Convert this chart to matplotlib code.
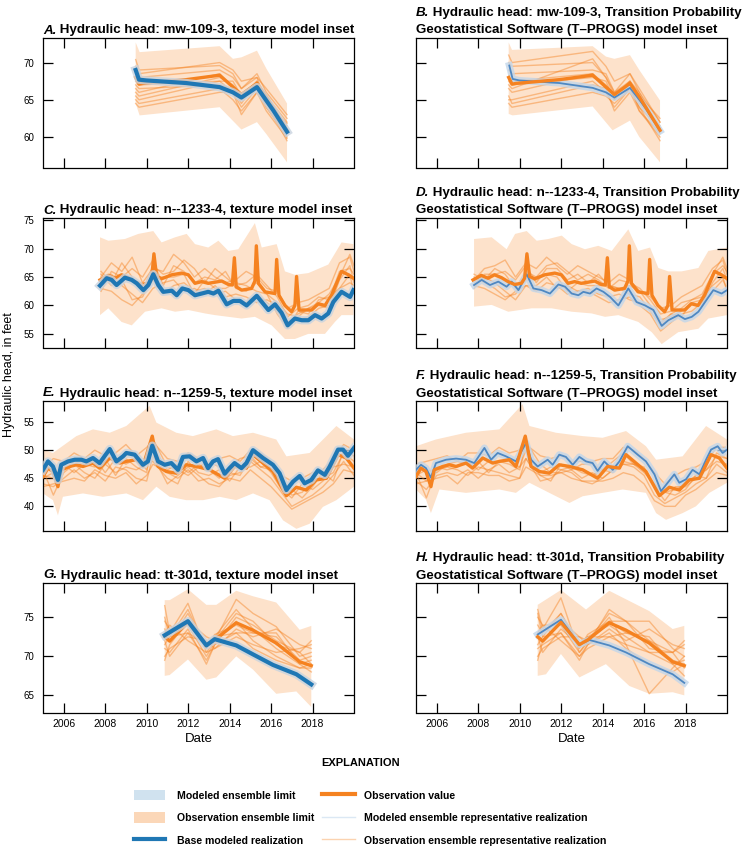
import matplotlib
matplotlib.use("Agg")
import matplotlib.pyplot as plt
import matplotlib.transforms as mtransforms
from matplotlib.patches import Patch
from matplotlib.lines import Line2D
import numpy as np

plt.rcParams['font.family'] = ['Liberation Sans', 'DejaVu Sans']

# ---------------- colours ----------------
BLUE = '#1f77b4'
BLUE_THIN = '#4f88c2'
BAND_BLUE = '#c2d6ea'
ORANGE = '#f58220'
PEACH = '#fde2cb'

# ---------------- mw-109-3 (A, B) ----------------
obs_ab_t = [2009.47, 2009.63, 2009.82, 2011.9, 2013.52, 2014.57, 2015.32, 2015.77, 2016.77]
obs_ab_v = [68.0, 67.1, 67.2, 67.7, 68.3, 65.7, 67.2, 65.4, 60.9]

base_a_t = [2009.47, 2009.63, 2009.98, 2011.9, 2013.52, 2014.16, 2014.57, 2015.32, 2015.77, 2016.1, 2016.77]
base_a_v = [69.0, 67.7, 67.6, 67.25, 66.7, 66.0, 65.3, 66.7, 64.9, 63.6, 60.7]
mod_b_t = [2009.5, 2009.66, 2009.98, 2011.91, 2013.52, 2014.16, 2014.57, 2015.32, 2015.77, 2016.09, 2016.77]
mod_b_v = [69.6, 67.8, 67.6, 67.25, 66.6, 66.0, 65.3, 66.6, 65.0, 63.8, 60.8]

env_a_up_t = [2009.47, 2009.66, 2013.52, 2014.16, 2014.57, 2015.32, 2015.77, 2016.77]
env_a_up_v = [72.7, 71.4, 72.2, 70.5, 70.7, 71.6, 69.2, 64.5]
env_a_lo_t = [2009.47, 2009.66, 2013.52, 2014.57, 2015.32, 2015.77, 2016.77]
env_a_lo_v = [64.5, 62.9, 64.0, 61.0, 62.0, 60.4, 56.6]
env_b_up_t = [2009.47, 2009.63, 2013.52, 2014.16, 2014.57, 2015.32, 2015.77, 2016.77]
env_b_up_v = [72.7, 71.7, 72.2, 70.8, 70.5, 71.0, 69.0, 64.9]
env_b_lo_t = [2009.47, 2009.66, 2013.52, 2014.48, 2015.32, 2015.77, 2016.77]
env_b_lo_v = [63.1, 62.9, 64.1, 60.9, 62.2, 60.0, 56.6]

real_ab_t = [2009.47, 2009.63, 2013.52, 2014.16, 2014.57, 2015.32, 2015.77, 2016.77]
real_a = [
    [70.4, 69.0, 69.6, 68.5, 66.5, 68.5, 66.0, 62.5],
    [66.0, 65.5, 68.0, 67.0, 65.5, 67.5, 65.0, 61.5],
    [65.0, 64.5, 66.5, 65.0, 63.5, 66.0, 64.0, 60.0],
    [68.5, 68.0, 69.0, 68.0, 66.5, 68.0, 64.5, 61.8],
    [67.0, 66.5, 67.0, 66.5, 64.5, 67.5, 65.5, 62.0],
    [64.5, 64.0, 66.0, 66.0, 64.0, 66.5, 64.5, 59.5],
    [69.5, 68.5, 70.0, 69.0, 67.5, 68.0, 66.5, 63.0],
    [66.5, 66.0, 68.5, 66.5, 65.0, 67.0, 65.0, 61.0],
    [67.5, 67.0, 67.5, 67.5, 65.5, 67.0, 64.0, 60.5],
    [65.5, 65.0, 67.5, 66.0, 63.0, 66.0, 63.5, 59.8],
]
real_b = [
    [71.0, 70.0, 71.5, 69.5, 67.5, 68.5, 66.0, 62.0],
    [67.0, 66.5, 70.5, 68.0, 66.0, 67.5, 64.5, 61.5],
    [65.5, 64.5, 67.0, 66.5, 63.5, 66.0, 63.5, 60.0],
    [68.0, 67.5, 68.5, 67.0, 65.5, 67.5, 65.5, 62.5],
    [64.5, 64.0, 66.0, 65.5, 64.5, 66.5, 64.0, 59.5],
    [69.0, 68.5, 69.0, 68.5, 66.0, 68.5, 66.5, 62.0],
    [66.5, 66.0, 68.5, 66.5, 65.0, 67.0, 65.0, 61.0],
    [70.0, 69.5, 70.0, 68.0, 65.5, 67.0, 63.5, 60.5],
    [65.0, 65.0, 67.5, 66.0, 64.0, 66.5, 64.0, 61.2],
    [67.5, 67.0, 68.0, 67.5, 65.0, 67.5, 66.0, 60.8],
]

# ---------------- n--1233-4 (C, D) ----------------
obs_cd_t = [2007.75, 2008.15, 2008.47, 2008.79, 2009.12, 2009.44, 2009.76, 2010.08, 2010.24, 2010.35,
            2010.48, 2010.72, 2011.21, 2011.69, 2012.01, 2012.33, 2012.65, 2012.97, 2013.30, 2013.62,
            2013.94, 2014.13, 2014.23, 2014.32, 2014.58, 2015.06, 2015.22, 2015.29, 2015.39, 2015.71,
            2016.19, 2016.27, 2016.38, 2016.67, 2016.99, 2017.15, 2017.23, 2017.35, 2017.64, 2017.96,
            2018.28, 2018.60, 2018.92, 2019.40, 2019.73, 2019.97]
obs_cd_v = [64.5, 65.3, 64.8, 65.4, 64.9, 64.2, 63.7, 63.9, 64.8, 69.1,
            65.1, 64.7, 65.4, 65.7, 65.4, 63.9, 64.2, 63.9, 64.1, 64.3,
            63.7, 63.6, 68.4, 63.3, 62.7, 63.0, 64.3, 70.5, 63.9, 62.4,
            62.1, 68.1, 61.8, 60.0, 58.9, 60.0, 65.1, 59.2, 59.2, 59.2,
            60.3, 60.0, 61.8, 66.0, 65.4, 64.8]

base_c_t = [2007.75, 2008.07, 2008.31, 2008.55, 2008.95, 2009.28, 2009.52, 2009.84, 2010.08, 2010.32,
            2010.56, 2010.80, 2011.21, 2011.45, 2011.72, 2012.01, 2012.33, 2012.65, 2012.97, 2013.22,
            2013.46, 2013.86, 2014.18, 2014.50, 2014.82, 2015.31, 2015.87, 2016.19, 2016.51, 2016.80,
            2017.15, 2017.48, 2017.80, 2018.12, 2018.44, 2018.76, 2019.00, 2019.40, 2019.81, 2019.97]
base_c_v = [63.5, 64.8, 64.5, 63.6, 64.9, 64.5, 63.9, 62.7, 63.6, 65.5,
            63.6, 62.4, 62.6, 61.8, 63.0, 62.7, 61.8, 62.1, 62.4, 62.1,
            62.6, 60.2, 60.8, 60.8, 60.0, 61.7, 59.2, 60.2, 58.7, 56.5,
            57.7, 57.4, 57.4, 58.3, 57.7, 58.6, 60.6, 62.4, 61.5, 62.7]
mod_d_t = [2007.8, 2008.17, 2008.57, 2008.97, 2009.37, 2009.61, 2009.94, 2010.34, 2010.66, 2011.06,
           2011.46, 2011.87, 2012.19, 2012.51, 2012.83, 2013.07, 2013.39, 2013.71, 2014.04, 2014.36,
           2014.76, 2015.24, 2015.64, 2016.05, 2016.45, 2016.85, 2017.17, 2017.65, 2017.97, 2018.30,
           2018.62, 2018.94, 2019.34, 2019.74, 2020.0]
mod_d_v = [63.6, 64.5, 63.6, 64.2, 63.3, 64.2, 62.7, 65.5, 63.0, 62.7,
           62.1, 63.7, 63.3, 62.1, 61.8, 62.4, 62.1, 63.0, 62.4, 61.5,
           60.0, 63.0, 60.6, 60.0, 59.2, 56.4, 57.4, 58.3, 57.6, 58.0,
           58.9, 60.6, 62.7, 62.1, 62.7]

env_c_up_t = [2007.75, 2008.15, 2008.95, 2009.60, 2010.32, 2010.72, 2011.37, 2011.93, 2012.33, 2012.97,
              2013.46, 2013.94, 2014.42, 2015.22, 2015.55, 2016.27, 2016.67, 2017.15, 2017.80, 2018.76,
              2019.40, 2019.97]
env_c_up_v = [72.0, 71.4, 71.7, 72.6, 73.1, 71.1, 72.0, 72.6, 70.8, 70.2,
              71.4, 69.6, 69.9, 74.5, 70.2, 70.8, 66.0, 65.4, 65.7, 67.2,
              71.1, 70.8]
env_c_lo_t = [2007.75, 2008.15, 2008.79, 2009.28, 2009.92, 2010.72, 2011.37, 2012.01, 2012.81, 2013.30,
              2013.94, 2014.58, 2015.22, 2016.03, 2016.67, 2017.15, 2017.80, 2018.60, 2019.08, 2019.40,
              2019.97]
env_c_lo_v = [58.3, 59.5, 57.1, 56.5, 58.9, 59.5, 58.9, 59.2, 58.6, 58.3,
              58.0, 57.7, 58.0, 56.5, 54.1, 54.1, 55.0, 55.0, 57.1, 58.3,
              58.3]
env_d_up_t = [2007.8, 2008.65, 2009.37, 2009.78, 2010.34, 2010.82, 2011.38, 2012.03, 2012.51, 2013.15,
              2013.79, 2014.44, 2015.24, 2015.72, 2016.29, 2016.69, 2017.17, 2017.81, 2018.62, 2019.10,
              2020.0]
env_d_up_v = [71.7, 72.0, 69.9, 72.6, 73.1, 71.4, 71.7, 72.3, 70.8, 69.9,
              70.5, 69.6, 73.4, 69.6, 70.2, 66.6, 66.0, 66.0, 66.6, 69.6,
              70.2]
env_d_lo_t = [2007.8, 2008.65, 2009.45, 2010.58, 2011.54, 2012.51, 2013.47, 2014.12, 2014.76, 2015.72,
              2016.37, 2016.85, 2017.65, 2018.62, 2019.10, 2020.0]
env_d_lo_v = [59.8, 60.1, 58.9, 59.5, 59.5, 58.9, 58.6, 58.0, 58.3, 57.1,
              55.3, 53.2, 55.3, 55.9, 57.7, 58.3]

real_cd_t = [2007.8, 2008.3, 2008.8, 2009.3, 2009.8, 2010.3, 2010.8, 2011.3, 2011.8, 2012.3,
             2012.8, 2013.3, 2013.8, 2014.3, 2014.8, 2015.3, 2015.8, 2016.3, 2016.8, 2017.3,
             2017.8, 2018.3, 2018.8, 2019.3, 2019.8, 2020.0]
real_c = [
    [65.0, 67.5, 66.0, 68.5, 64.0, 66.5, 66.0, 69.0, 67.5, 65.0, 66.5, 65.0, 64.0, 64.5, 66.0, 65.0, 63.0, 62.5, 59.5, 60.5, 61.0, 62.0, 63.0, 67.5, 68.5, 66.0],
    [63.0, 62.5, 61.0, 60.0, 62.0, 64.5, 62.0, 63.5, 64.0, 62.5, 63.0, 62.0, 62.5, 61.0, 60.5, 62.0, 60.5, 59.0, 56.5, 57.5, 58.0, 59.5, 60.0, 63.0, 64.0, 63.5],
    [66.0, 64.0, 67.5, 65.0, 62.5, 67.0, 65.5, 66.0, 68.0, 66.5, 64.0, 66.5, 65.0, 63.5, 64.0, 65.5, 63.5, 61.5, 58.0, 59.5, 60.0, 61.5, 61.0, 66.0, 66.5, 65.5],
    [64.0, 65.5, 63.5, 62.0, 60.5, 63.0, 64.0, 64.5, 62.5, 63.0, 62.0, 63.5, 61.5, 62.0, 61.5, 60.5, 61.0, 60.0, 57.0, 58.5, 59.5, 60.0, 59.5, 64.5, 67.0, 64.0],
    [62.5, 66.0, 65.0, 66.5, 65.0, 68.0, 63.5, 67.0, 66.0, 64.0, 65.0, 64.5, 66.0, 63.0, 62.5, 64.0, 62.0, 60.5, 58.5, 58.0, 59.5, 60.5, 62.0, 65.0, 69.0, 67.0],
    [65.5, 63.5, 64.5, 61.0, 61.5, 65.0, 65.0, 65.0, 65.5, 62.0, 64.5, 63.0, 63.0, 64.0, 63.5, 62.5, 62.0, 58.5, 56.0, 59.0, 58.5, 61.0, 61.5, 63.0, 65.5, 62.0],
]
real_d = [
    [64.5, 66.5, 67.0, 68.0, 65.0, 67.5, 66.5, 68.5, 67.0, 65.5, 67.0, 66.0, 65.0, 64.0, 65.5, 64.5, 62.5, 61.5, 59.5, 60.0, 61.5, 62.5, 63.5, 66.5, 68.0, 65.5],
    [63.5, 63.0, 62.0, 61.0, 62.5, 63.5, 62.5, 64.0, 63.5, 62.0, 62.5, 62.5, 61.5, 60.5, 61.0, 61.5, 60.0, 58.5, 55.5, 57.0, 58.5, 59.0, 60.5, 62.5, 64.5, 63.0],
    [65.5, 64.5, 66.5, 65.5, 63.0, 66.0, 65.0, 67.0, 67.5, 66.0, 64.5, 65.5, 64.5, 63.0, 64.5, 64.0, 63.0, 61.0, 58.5, 59.0, 60.5, 61.0, 62.0, 65.5, 67.0, 66.0],
    [64.0, 65.0, 64.0, 62.5, 61.0, 63.5, 63.5, 65.0, 63.0, 63.5, 62.5, 63.0, 62.0, 61.5, 62.0, 61.0, 60.5, 59.5, 57.5, 58.0, 59.0, 60.5, 60.0, 64.0, 66.5, 64.5],
    [63.0, 65.5, 65.5, 66.0, 64.5, 67.0, 64.0, 66.5, 66.5, 64.5, 65.5, 64.0, 65.5, 63.5, 63.0, 63.5, 62.5, 60.0, 57.0, 58.5, 59.5, 61.0, 61.5, 65.5, 68.5, 66.5],
    [65.0, 64.0, 63.0, 61.5, 62.0, 64.5, 64.5, 65.5, 65.0, 62.5, 64.0, 63.5, 63.5, 63.5, 63.0, 62.0, 61.5, 59.0, 56.5, 58.5, 58.0, 60.5, 61.0, 63.5, 65.0, 62.5],
]

# ---------------- n--1259-5 (E, F) ----------------
obs_ef_t = [2005.0, 2005.24, 2005.48, 2005.72, 2005.88, 2006.29, 2006.61, 2006.93, 2007.41, 2007.73,
            2008.22, 2008.70, 2009.02, 2009.50, 2009.82, 2010.27, 2010.55, 2010.95, 2011.43, 2011.91,
            2012.40, 2013.04, 2013.76, 2014.24, 2014.81, 2015.13, 2015.61, 2016.09, 2016.74, 2017.22,
            2017.70, 2018.18, 2018.67, 2019.23, 2019.63, 2020.0]
obs_ef_v = [45.3, 46.8, 46.2, 43.5, 46.5, 47.1, 47.4, 47.1, 47.7, 46.8,
            48.6, 47.7, 48.0, 48.3, 47.1, 52.5, 47.1, 46.2, 45.9, 47.4,
            47.1, 46.5, 45.0, 47.1, 46.8, 49.2, 47.7, 46.2, 41.9, 43.4,
            42.9, 44.7, 45.0, 49.2, 48.6, 46.8]

base_e_t = [2005.0, 2005.24, 2005.48, 2005.72, 2005.88, 2006.21, 2006.53, 2006.85, 2007.09, 2007.41,
            2007.73, 2008.22, 2008.54, 2008.86, 2009.02, 2009.42, 2009.82, 2010.06, 2010.27, 2010.55,
            2010.87, 2011.19, 2011.51, 2011.75, 2012.07, 2012.40, 2012.72, 2012.96, 2013.20, 2013.44,
            2013.76, 2014.00, 2014.24, 2014.57, 2014.81, 2015.13, 2015.61, 2016.09, 2016.41, 2016.74,
            2017.06, 2017.38, 2017.62, 2017.94, 2018.26, 2018.59, 2018.83, 2019.23, 2019.47, 2019.71,
            2020.0]
base_e_v = [46.5, 48.0, 47.1, 44.7, 47.4, 48.0, 48.3, 48.3, 48.0, 48.6,
            47.7, 50.2, 48.0, 48.9, 49.5, 49.2, 47.4, 48.0, 50.8, 48.0,
            47.4, 47.7, 46.5, 48.8, 48.9, 48.0, 48.6, 46.8, 48.0, 48.4,
            45.8, 46.8, 47.7, 46.8, 47.7, 50.0, 48.6, 47.4, 45.9, 42.9,
            44.4, 45.4, 44.1, 44.7, 46.4, 45.6, 47.1, 50.1, 50.1, 49.0,
            50.4]
mod_f_t = [2005.0, 2005.24, 2005.48, 2005.72, 2005.96, 2006.45, 2006.93, 2007.41, 2007.81, 2008.30,
           2008.62, 2008.94, 2009.34, 2009.82, 2010.31, 2010.55, 2010.87, 2011.35, 2011.59, 2011.91,
           2012.23, 2012.56, 2012.88, 2013.20, 2013.52, 2013.76, 2014.08, 2014.49, 2014.81, 2015.21,
           2015.69, 2016.09, 2016.50, 2016.82, 2017.14, 2017.46, 2017.70, 2018.02, 2018.34, 2018.67,
           2018.99, 2019.23, 2019.55, 2019.79, 2020.0]
mod_f_v = [46.5, 47.4, 46.8, 45.1, 47.7, 48.3, 48.5, 48.3, 47.7, 50.4,
           48.3, 49.5, 48.9, 48.0, 51.3, 48.3, 47.1, 48.3, 47.4, 49.2,
           48.8, 47.4, 48.8, 48.0, 47.7, 46.3, 48.0, 46.5, 48.0, 50.7,
           49.2, 48.0, 45.7, 42.7, 44.2, 45.7, 44.2, 44.8, 46.5, 45.7,
           48.3, 50.1, 50.7, 49.5, 50.1]

env_e_up_t = [2005.0, 2005.48, 2006.61, 2007.41, 2008.22, 2009.02, 2010.14, 2010.47, 2011.43, 2012.23,
              2013.36, 2014.16, 2015.13, 2016.25, 2016.74, 2017.86, 2018.67, 2019.15, 2020.0]
env_e_up_v = [50.1, 49.5, 52.5, 53.7, 53.1, 54.3, 57.9, 54.9, 53.1, 52.5,
              53.7, 52.5, 53.1, 51.9, 48.9, 49.5, 52.5, 54.3, 51.9]
env_e_lo_t = [2005.0, 2005.48, 2005.72, 2005.96, 2006.93, 2007.89, 2009.02, 2009.82, 2010.47, 2011.11,
              2011.91, 2012.72, 2013.52, 2014.32, 2015.13, 2015.93, 2016.58, 2017.22, 2017.86, 2018.50,
              2019.15, 2020.0]
env_e_lo_v = [42.3, 41.1, 38.4, 41.7, 42.3, 41.7, 42.3, 41.1, 43.5, 41.7,
              41.1, 41.1, 41.7, 41.1, 42.3, 41.1, 37.5, 36.0, 36.9, 39.9,
              41.1, 43.5]
env_f_up_t = [2005.0, 2005.96, 2007.41, 2009.02, 2010.14, 2010.47, 2011.75, 2013.04, 2014.00, 2015.13,
              2016.09, 2016.58, 2017.86, 2018.99, 2020.0]
env_f_up_v = [50.7, 51.9, 53.1, 53.7, 58.2, 54.3, 53.1, 52.5, 52.2, 53.4,
              50.7, 48.3, 48.9, 54.3, 51.9]
env_f_lo_t = [2005.0, 2005.48, 2005.72, 2006.13, 2007.41, 2009.02, 2009.82, 2010.47, 2011.43, 2012.40,
              2013.04, 2014.00, 2014.97, 2016.09, 2016.58, 2017.06, 2017.86, 2018.50, 2019.15, 2020.0]
env_f_lo_v = [43.0, 41.2, 38.8, 43.0, 42.4, 43.0, 42.4, 44.2, 42.4, 40.6,
              41.8, 42.4, 43.0, 42.4, 38.8, 37.6, 38.8, 40.0, 42.4, 44.2]

real_ef_t = [2005.0, 2005.5, 2006.0, 2006.5, 2007.0, 2007.5, 2008.0, 2008.5, 2009.0, 2009.5,
             2010.0, 2010.3, 2011.0, 2011.5, 2012.0, 2012.5, 2013.0, 2013.5, 2014.0, 2014.5,
             2015.0, 2015.5, 2016.0, 2016.5, 2017.0, 2017.5, 2018.0, 2018.5, 2019.0, 2019.5, 2020.0]
real_e = [
    [44.0, 43.5, 45.0, 46.5, 45.0, 46.0, 44.5, 47.0, 46.5, 45.0, 44.5, 49.0, 44.0, 45.5, 47.0, 45.5, 44.0, 43.5, 45.5, 46.0, 48.0, 46.5, 45.0, 42.5, 40.0, 41.0, 42.0, 43.5, 45.5, 48.0, 45.5],
    [47.0, 48.5, 48.0, 49.5, 48.5, 50.0, 49.0, 49.5, 51.0, 49.0, 50.5, 51.5, 48.5, 48.0, 49.5, 48.5, 47.5, 48.5, 49.0, 48.0, 50.0, 49.5, 48.0, 45.5, 44.5, 45.0, 46.0, 46.5, 48.5, 51.0, 50.0],
    [45.5, 45.0, 47.5, 46.0, 47.5, 48.5, 46.0, 48.5, 47.5, 48.5, 46.5, 50.5, 46.5, 47.5, 46.0, 47.5, 46.5, 45.0, 47.0, 48.5, 49.0, 47.0, 47.5, 44.0, 42.0, 42.5, 44.5, 45.0, 46.0, 49.5, 48.0],
    [46.5, 42.0, 46.0, 47.5, 46.0, 45.0, 47.5, 46.0, 47.0, 46.5, 47.5, 48.0, 45.0, 44.0, 48.0, 46.0, 45.5, 46.5, 44.5, 47.0, 47.0, 48.0, 46.0, 43.0, 41.5, 44.0, 43.0, 44.5, 47.0, 47.5, 47.0],
    [45.0, 46.0, 46.5, 48.0, 47.5, 47.0, 48.5, 45.5, 48.5, 47.0, 46.0, 52.0, 47.0, 46.5, 45.5, 47.0, 48.0, 47.0, 46.0, 45.5, 48.5, 47.0, 46.5, 44.5, 43.0, 41.5, 43.5, 46.0, 44.5, 50.0, 49.0],
    [43.5, 44.0, 44.5, 45.0, 44.5, 46.5, 45.5, 45.0, 46.0, 44.0, 45.5, 47.5, 46.0, 45.0, 46.5, 44.5, 45.0, 44.0, 45.0, 44.5, 46.5, 45.0, 43.5, 41.5, 39.5, 40.5, 41.5, 42.5, 44.0, 46.5, 46.0],
]
real_f = [
    [44.5, 43.0, 45.5, 46.0, 45.5, 46.5, 45.0, 46.5, 46.0, 45.5, 45.0, 48.5, 44.5, 45.0, 46.5, 46.0, 44.5, 44.0, 45.0, 46.5, 47.5, 47.0, 45.5, 42.0, 40.5, 41.5, 42.5, 44.0, 45.0, 47.5, 46.0],
    [47.5, 48.0, 48.5, 49.0, 48.0, 49.5, 49.5, 49.0, 50.5, 49.5, 50.0, 51.0, 49.0, 48.5, 49.0, 48.0, 48.0, 48.0, 48.5, 48.5, 50.5, 50.0, 48.5, 46.0, 44.0, 45.5, 46.5, 47.0, 48.0, 50.5, 50.5],
    [46.0, 44.5, 47.0, 46.5, 47.0, 48.0, 46.5, 48.0, 48.0, 48.0, 47.0, 50.0, 46.0, 47.0, 46.5, 47.0, 46.0, 45.5, 46.5, 48.0, 49.5, 47.5, 47.0, 43.5, 42.5, 43.0, 44.0, 45.5, 46.5, 49.0, 48.5],
    [46.0, 41.5, 46.5, 47.0, 46.5, 45.5, 47.0, 46.5, 47.5, 46.0, 47.0, 48.5, 45.5, 44.5, 47.5, 46.5, 45.0, 46.0, 45.0, 46.5, 47.5, 47.5, 46.5, 43.5, 41.0, 43.5, 43.5, 45.0, 46.5, 48.0, 47.5],
    [45.5, 46.5, 46.0, 47.5, 48.0, 47.5, 48.0, 46.0, 48.0, 47.5, 46.5, 51.5, 47.5, 46.0, 46.0, 46.5, 47.5, 47.5, 46.5, 46.0, 48.0, 47.5, 46.0, 44.0, 42.5, 42.0, 43.0, 45.5, 45.0, 49.5, 48.5],
    [44.0, 44.5, 45.0, 45.5, 44.0, 46.0, 46.0, 45.5, 45.5, 44.5, 45.0, 47.0, 45.5, 45.5, 46.0, 45.0, 44.5, 44.5, 44.5, 45.0, 46.0, 45.5, 44.0, 41.0, 40.0, 40.0, 42.0, 43.0, 44.5, 46.0, 45.5],
]

# ---------------- tt-301d (G, H) ----------------
obs_gh_t = [2010.87, 2011.11, 2011.99, 2012.88, 2013.28, 2014.32, 2015.13, 2016.25, 2017.38, 2017.94]
obs_gh_v = [72.5, 71.95, 74.36, 71.5, 72.1, 74.3, 73.35, 71.7, 69.3, 68.8]

base_g_t = [2010.87, 2011.99, 2012.88, 2013.28, 2014.32, 2015.13, 2016.09, 2017.22, 2017.94]
base_g_v = [72.7, 74.5, 71.4, 72.2, 71.4, 70.25, 68.9, 67.7, 66.4]
mod_h_t = [2010.87, 2011.99, 2012.88, 2013.36, 2014.32, 2015.13, 2016.25, 2017.38, 2017.94]
mod_h_v = [72.8, 74.7, 71.5, 72.1, 71.4, 70.5, 69.0, 67.7, 66.6]

env_g_up_t = [2010.87, 2011.11, 2011.99, 2012.88, 2013.36, 2014.32, 2015.13, 2016.25, 2017.38, 2017.94]
env_g_up_v = [77.2, 77.2, 78.6, 76.6, 76.6, 78.4, 77.7, 76.9, 73.4, 73.9]
env_g_lo_t = [2010.87, 2011.11, 2011.99, 2012.88, 2013.36, 2014.32, 2015.13, 2016.25, 2017.22, 2017.94]
env_g_lo_v = [67.5, 67.6, 69.6, 67.0, 67.3, 70.0, 68.3, 65.2, 65.5, 63.5]
env_h_up_t = [2010.87, 2011.99, 2013.2, 2014.32, 2016.25, 2017.38, 2017.94]
env_h_up_v = [76.6, 78.5, 76.0, 78.4, 75.8, 73.5, 73.9]
env_h_lo_t = [2010.87, 2011.27, 2011.99, 2012.88, 2014.16, 2015.29, 2016.25, 2017.38, 2017.94]
env_h_lo_v = [67.5, 67.7, 70.3, 67.3, 69.0, 66.2, 65.2, 65.4, 65.0]

real_gh_t = [2010.87, 2011.11, 2011.99, 2012.88, 2013.28, 2014.32, 2015.13, 2016.25, 2017.38, 2017.94]
real_g = [
    [76.5, 73.0, 76.8, 70.5, 72.0, 77.3, 75.5, 73.8, 70.0, 70.5],
    [71.0, 70.5, 73.5, 69.0, 71.5, 75.0, 74.0, 72.0, 70.5, 72.0],
    [73.5, 72.0, 75.5, 71.0, 72.5, 76.0, 73.5, 71.0, 69.0, 69.5],
    [70.0, 71.0, 72.5, 72.0, 71.0, 73.5, 72.5, 73.5, 71.5, 71.0],
    [74.5, 73.5, 74.0, 70.0, 71.8, 74.5, 72.0, 70.0, 68.5, 68.5],
    [72.0, 70.0, 73.0, 71.5, 72.5, 73.0, 73.0, 72.5, 69.5, 70.0],
    [69.5, 71.5, 74.5, 72.5, 72.0, 75.5, 74.5, 71.5, 70.5, 69.0],
    [73.0, 74.0, 72.0, 70.5, 71.0, 72.5, 71.5, 70.5, 71.0, 71.5],
    [71.5, 72.5, 76.0, 71.0, 72.8, 74.0, 73.0, 73.0, 69.0, 68.0],
    [75.0, 72.5, 73.0, 69.5, 71.5, 73.0, 71.0, 69.5, 68.5, 69.0],
]
real_h = [
    [76.0, 73.5, 77.5, 70.5, 72.0, 74.5, 74.5, 74.5, 71.0, 70.0],
    [71.0, 71.5, 73.0, 70.0, 71.5, 76.0, 74.5, 72.0, 70.5, 71.5],
    [74.0, 73.0, 75.5, 71.5, 72.5, 74.0, 72.5, 70.5, 69.0, 69.5],
    [70.0, 71.0, 72.5, 72.5, 71.5, 73.5, 72.0, 73.5, 71.5, 71.0],
    [75.0, 74.0, 74.0, 70.5, 71.8, 75.0, 71.5, 65.2, 68.5, 70.0],
    [72.5, 70.5, 73.5, 71.5, 72.5, 72.5, 73.0, 72.0, 69.5, 69.0],
    [69.5, 72.0, 74.5, 72.5, 72.0, 75.5, 74.5, 71.0, 70.5, 68.5],
    [73.0, 74.0, 72.0, 70.0, 71.0, 72.5, 71.5, 70.5, 70.5, 72.0],
    [71.5, 72.5, 75.5, 71.0, 72.8, 74.5, 73.0, 72.5, 69.0, 67.5],
    [75.5, 72.5, 73.0, 69.5, 71.5, 73.0, 71.0, 69.0, 68.0, 69.0],
]

# ---------------- titles / axes settings ----------------
wells = ['mw-109-3', 'n--1233-4', 'n--1259-5', 'tt-301d']
ylims = [(55.9, 73.3), (52.6, 75.4), (35.7, 58.75), (62.8, 79.4)]
yticks = [[60, 65, 70], [55, 60, 65, 70, 75], [40, 45, 50, 55], [65, 70, 75]]
xticks = [2006, 2008, 2010, 2012, 2014, 2016, 2018]

panels = [
    # letter, row, col, obs, base/model, envelope up, envelope low, realizations
    ('A.', 0, 0, (obs_ab_t, obs_ab_v), (base_a_t, base_a_v), (env_a_up_t, env_a_up_v), (env_a_lo_t, env_a_lo_v), real_ab_t, real_a),
    ('B.', 0, 1, (obs_ab_t, obs_ab_v), (mod_b_t, mod_b_v), (env_b_up_t, env_b_up_v), (env_b_lo_t, env_b_lo_v), real_ab_t, real_b),
    ('C.', 1, 0, (obs_cd_t, obs_cd_v), (base_c_t, base_c_v), (env_c_up_t, env_c_up_v), (env_c_lo_t, env_c_lo_v), real_cd_t, real_c),
    ('D.', 1, 1, (obs_cd_t, obs_cd_v), (mod_d_t, mod_d_v), (env_d_up_t, env_d_up_v), (env_d_lo_t, env_d_lo_v), real_cd_t, real_d),
    ('E.', 2, 0, (obs_ef_t, obs_ef_v), (base_e_t, base_e_v), (env_e_up_t, env_e_up_v), (env_e_lo_t, env_e_lo_v), real_ef_t, real_e),
    ('F.', 2, 1, (obs_ef_t, obs_ef_v), (mod_f_t, mod_f_v), (env_f_up_t, env_f_up_v), (env_f_lo_t, env_f_lo_v), real_ef_t, real_f),
    ('G.', 3, 0, (obs_gh_t, obs_gh_v), (base_g_t, base_g_v), (env_g_up_t, env_g_up_v), (env_g_lo_t, env_g_lo_v), real_gh_t, real_g),
    ('H.', 3, 1, (obs_gh_t, obs_gh_v), (mod_h_t, mod_h_v), (env_h_up_t, env_h_up_v), (env_h_lo_t, env_h_lo_v), real_gh_t, real_h),
]

W, H = 747, 849
fig = plt.figure(figsize=(W / 100, H / 100), dpi=100)

col_left = [43, 416]
row_top = [38, 218, 401, 583]
ax_w, ax_h = 311, 129.5
TFS = 9.6  # title font size


def add_title(ax, letter, col, well):
    if col == 0:
        lines = [' Hydraulic head: %s, texture model inset' % well]
    else:
        lines = [' Hydraulic head: %s, Transition Probability' % well,
                 'Geostatistical Software (T\u2013PROGS) model inset']
    n = len(lines)
    base = mtransforms.offset_copy(ax.transAxes, fig=fig, y=4.5 + (n - 1) * 17.7, units='dots')
    lt = ax.text(0, 1, letter, transform=base, fontsize=TFS, fontweight='bold',
                 fontstyle='italic', ha='left', va='baseline')
    # same font size -> same layout descent, so bottoms line up the baselines
    ax.annotate(lines[0], xy=(1, 0), xycoords=lt, fontsize=TFS, fontweight='bold',
                ha='left', va='bottom')
    if n == 2:
        t2 = mtransforms.offset_copy(ax.transAxes, fig=fig, y=4.5, units='dots')
        ax.text(0, 1, lines[1], transform=t2, fontsize=TFS, fontweight='bold',
                ha='left', va='baseline')


for letter, row, col, obs, model, up, lo, rt, reals in panels:
    x0 = col_left[col] / W
    y0 = 1 - (row_top[row] + ax_h) / H
    ax = fig.add_axes([x0, y0, ax_w / W, ax_h / H])

    # observation ensemble limit
    px = np.concatenate([up[0], lo[0][::-1]])
    py = np.concatenate([up[1], lo[1][::-1]])
    ax.fill(px, py, color=PEACH, lw=0, zorder=1)

    # observation ensemble representative realizations
    for r in reals:
        ax.plot(rt, r, color=ORANGE, lw=1.0, alpha=0.45, zorder=2)

    if col == 0:
        # modeled ensemble limit (narrow) + base modeled realization
        ax.plot(obs[0], obs[1], color=ORANGE, lw=2.4, zorder=3, solid_joinstyle='round')
        ax.plot(model[0], model[1], color='#c8d3df', lw=6, alpha=0.8, zorder=4,
                solid_joinstyle='round')
        ax.plot(model[0], model[1], color=BLUE, lw=3.0, zorder=5, solid_joinstyle='round')
    else:
        ax.plot(model[0], model[1], color=BAND_BLUE, lw=5, alpha=0.8, zorder=3,
                solid_joinstyle='round')
        ax.plot(model[0], model[1], color=BLUE_THIN, lw=1.3, zorder=4)
        ax.plot(obs[0], obs[1], color=ORANGE, lw=2.4, zorder=5, solid_joinstyle='round')

    ax.set_xlim(2005, 2020)
    ax.set_ylim(*ylims[row])
    ax.set_xticks(xticks)
    ax.set_yticks(yticks[row])
    ax.tick_params(direction='in', top=True, right=True, length=7, width=0.9, pad=6)
    ax.tick_params(axis='y', labelsize=7)
    ax.tick_params(axis='x', labelsize=7.5, pad=4.5)
    if row != 3:
        ax.tick_params(axis='x', labelbottom=False)
    else:
        ax.set_xlabel('Date', fontsize=9.5, labelpad=3)
    if col == 1:
        ax.tick_params(axis='y', labelleft=False)
    for s in ax.spines.values():
        s.set_linewidth(0.9)

    add_title(ax, letter, col, wells[row])

fig.text(9 / W, 1 - 375 / H, 'Hydraulic head, in feet', rotation=90, fontsize=9,
         ha='center', va='center')

# ---------------- explanation ----------------
fig.text(361 / W, 1 - 763 / H, 'EXPLANATION', fontsize=8, fontweight='bold',
         ha='center', va='center')

h1 = [Patch(facecolor='#d0e2ef', edgecolor='none'),
      Patch(facecolor='#fbd7b8', edgecolor='none'),
      Line2D([], [], color=BLUE, lw=3)]
l1 = ['Modeled ensemble limit', 'Observation ensemble limit', 'Base modeled realization']
h2 = [Line2D([], [], color=ORANGE, lw=3),
      Line2D([], [], color='#dbe8f4', lw=1),
      Line2D([], [], color='#fbd3b0', lw=1)]
l2 = ['Observation value', 'Modeled ensemble representative realization',
      'Observation ensemble representative realization']

prop = {'weight': 'bold', 'size': 7.6}
fig.legend(h1, l1, loc='upper left', bbox_to_anchor=(134 / W, 1 - 790 / H), frameon=False,
           prop=prop, handlelength=2.9, handleheight=1.15, handletextpad=1.2,
           labelspacing=1.1, borderpad=0, borderaxespad=0)
fig.legend(h2, l2, loc='upper left', bbox_to_anchor=(322 / W, 1 - 790 / H), frameon=False,
           prop=prop, handlelength=3.1, handleheight=1.15, handletextpad=0.85,
           labelspacing=1.1, borderpad=0, borderaxespad=0)

fig.savefig('out.png', dpi=100)
